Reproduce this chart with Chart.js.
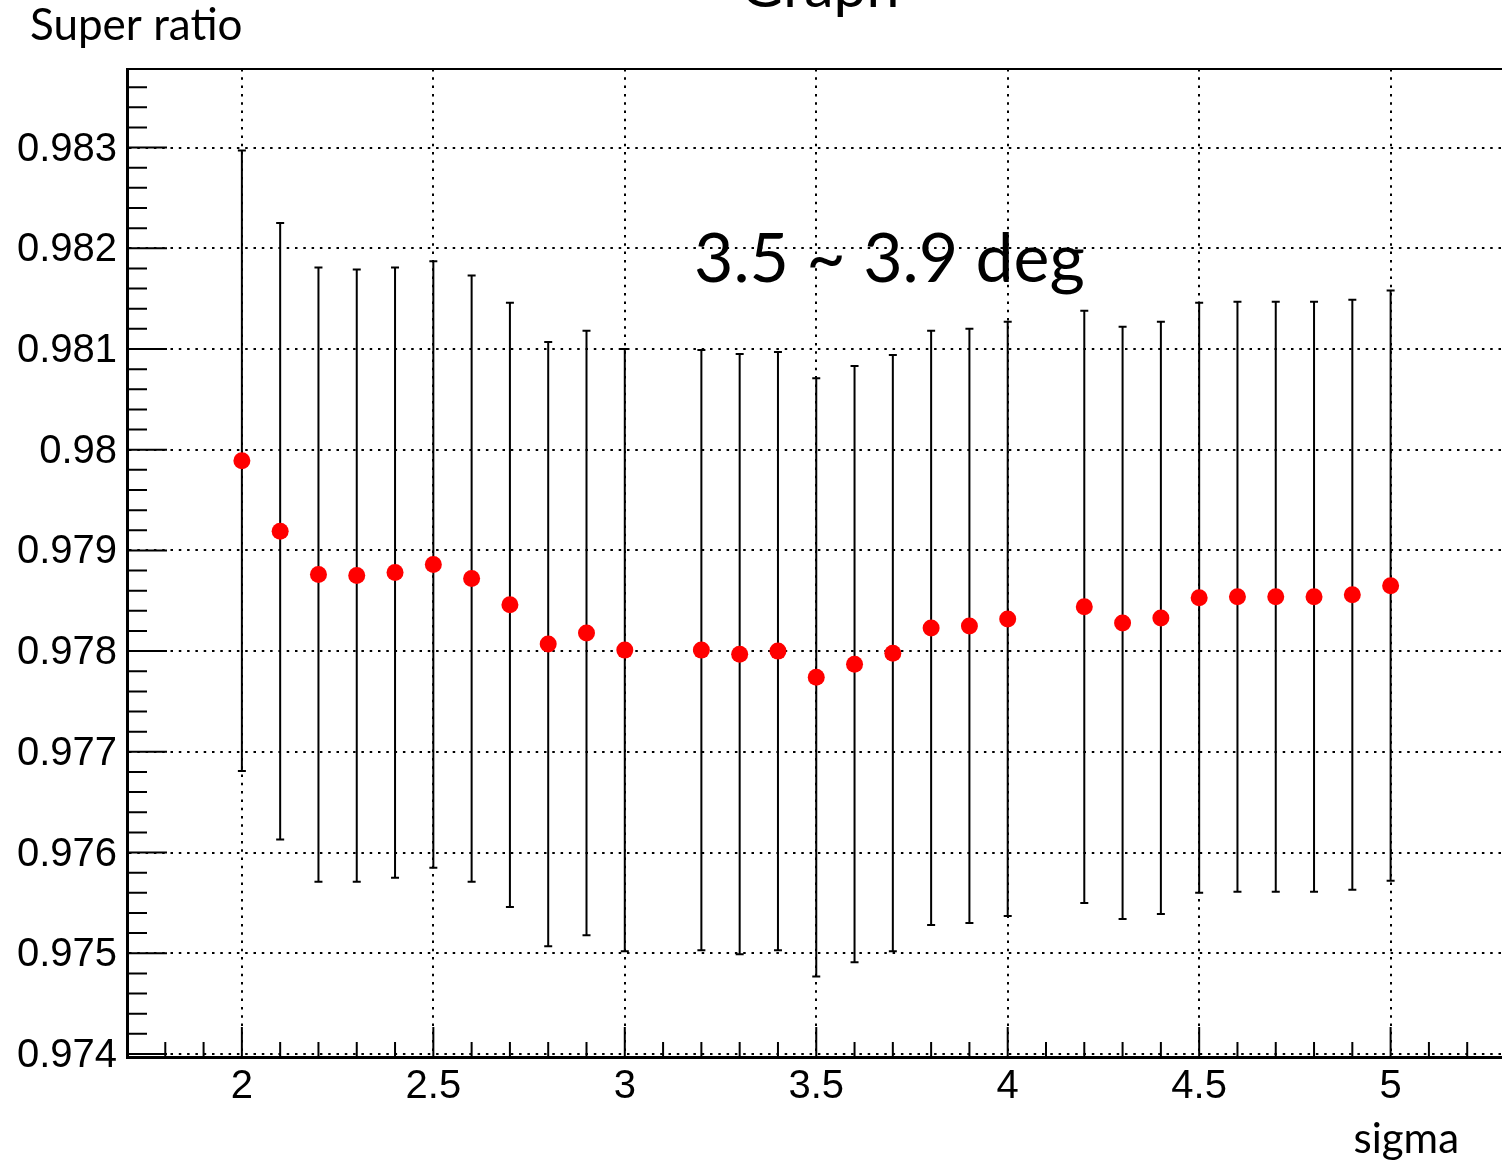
<!DOCTYPE html>
<html>
<head>
<meta charset="utf-8">
<title>Super ratio vs sigma</title>
<script src="https://cdn.jsdelivr.net/npm/chart.js@4/dist/chart.umd.min.js"></script>
<style>
  html, body { margin: 0; padding: 0; background: #fff; overflow: hidden; }
  #wrap { width: 1514px; height: 1171px; }
</style>
</head>
<body>
<div id="wrap"><canvas id="c" width="1514" height="1171"></canvas></div>
<script>
// sigma cut values (3.1 and 4.1 are absent)
const sigma = [2.0, 2.1, 2.2, 2.3, 2.4, 2.5, 2.6, 2.7, 2.8, 2.9, 3.0,
               3.2, 3.3, 3.4, 3.5, 3.6, 3.7, 3.8, 3.9, 4.0,
               4.2, 4.3, 4.4, 4.5, 4.6, 4.7, 4.8, 4.9, 5.0];
// super ratio at each sigma
const ratio = [0.97989, 0.97919, 0.97876, 0.97875, 0.97878, 0.97886, 0.97872, 0.97846, 0.97807, 0.97818, 0.97801,
               0.97801, 0.97797, 0.97800, 0.97774, 0.97787, 0.97798, 0.97823, 0.97825, 0.97832,
               0.97844, 0.97828, 0.97833, 0.97853, 0.97854, 0.97854, 0.97854, 0.97856, 0.97865];
// symmetric uncertainty on the ratio
const ratioErr = [0.00308, 0.00306, 0.00305, 0.00304, 0.00303, 0.00301, 0.00301, 0.00300, 0.00300, 0.00300, 0.00299,
                  0.00298, 0.00298, 0.00297, 0.00297, 0.00296, 0.00296, 0.00295, 0.00295, 0.00295,
                  0.00294, 0.00294, 0.00294, 0.00293, 0.00293, 0.00293, 0.00293, 0.00293, 0.00293];

// axis ranges and labelled ticks
const xRange = [1.7, 5.3];
const yRange = [0.97397, 0.98378];
const xTicks = [2, 2.5, 3, 3.5, 4, 4.5, 5];
const yTicks = [0.974, 0.975, 0.976, 0.977, 0.978, 0.979, 0.980, 0.981, 0.982, 0.983];
const xMinorStep = 0.1;
const yMinorStep = 0.0002;

const titleText = 'Graph';
const xTitle = 'sigma';
const yTitle = 'Super ratio';
const noteText = '3.5 ~ 3.9 deg';

const points = sigma.map((x, i) => ({ x: x, y: ratio[i] }));

const DOT = [2.5, 5.8];

// ROOT-style decorations: error bars, inner ticks, frame and text
const rootStyle = {
  id: 'rootStyle',
  beforeDraw(chart) {
    // the annotation sits underneath the grid
    const { ctx } = chart;
    ctx.save();
    ctx.fillStyle = '#000';
    ctx.textBaseline = 'alphabetic';
    ctx.font = '68px Lato';
    ctx.textAlign = 'left';
    ctx.fillText(noteText, 694, 282);
    ctx.restore();
  },
  beforeDatasetsDraw(chart) {
    const { ctx, scales: { x, y } } = chart;
    ctx.save();
    ctx.strokeStyle = '#000';
    ctx.lineWidth = 2;
    sigma.forEach((sx, i) => {
      const px = x.getPixelForValue(sx);
      const top = y.getPixelForValue(ratio[i] + ratioErr[i]);
      const bot = y.getPixelForValue(ratio[i] - ratioErr[i]);
      ctx.beginPath();
      ctx.moveTo(px, top); ctx.lineTo(px, bot);
      ctx.moveTo(px - 4, top); ctx.lineTo(px + 4, top);
      ctx.moveTo(px - 4, bot); ctx.lineTo(px + 4, bot);
      ctx.stroke();
    });
    ctx.restore();
  },
  afterDraw(chart) {
    const { ctx, chartArea: a, scales: { x, y } } = chart;
    ctx.save();
    ctx.strokeStyle = '#000';
    // frame top edge
    ctx.lineWidth = 2;
    ctx.beginPath();
    ctx.moveTo(a.left, a.top); ctx.lineTo(a.right + 10, a.top);
    ctx.stroke();
    // y ticks pointing into the frame
    ctx.lineWidth = 2;
    ctx.beginPath();
    const yn = Math.round((yRange[1] - yTicks[0]) / yMinorStep);
    for (let k = -1; k <= yn; k++) {
      const v = yTicks[0] + k * yMinorStep;
      if (v < yRange[0] || v > yRange[1]) continue;
      const py = y.getPixelForValue(v);
      const major = yTicks.some(t => Math.abs(t - v) < 1e-7);
      ctx.moveTo(a.left, py); ctx.lineTo(a.left + (major ? 40 : 20), py);
    }
    ctx.stroke();
    // x ticks pointing into the frame
    ctx.beginPath();
    const xn = Math.round((xRange[1] - xRange[0]) / xMinorStep);
    for (let k = 1; k < xn; k++) {
      const v = xRange[0] + k * xMinorStep;
      const px = x.getPixelForValue(v);
      const major = xTicks.some(t => Math.abs(t - v) < 1e-7);
      ctx.moveTo(px, a.bottom); ctx.lineTo(px, a.bottom - (major ? 30 : 15));
    }
    ctx.stroke();
    // title and axis titles
    ctx.fillStyle = '#000';
    ctx.textBaseline = 'alphabetic';
    ctx.font = '59px Lato';
    ctx.textAlign = 'center';
    ctx.fillText(titleText, 820, 7);
    ctx.font = '44px Lato';
    ctx.textAlign = 'left';
    ctx.fillText(yTitle, 30, 40);
    ctx.font = '42px Lato';
    ctx.textAlign = 'right';
    ctx.fillText(xTitle, 1459, 1153);
    ctx.restore();
  }
};

new Chart(document.getElementById('c'), {
  type: 'scatter',
  data: {
    datasets: [{
      data: points,
      backgroundColor: '#ff0000',
      borderWidth: 0,
      pointRadius: 8.5,
      pointHoverRadius: 8.5
    }]
  },
  options: {
    responsive: false,
    animation: false,
    events: [],
    layout: { padding: { top: 69, right: 1, left: 0, bottom: 0 } },
    plugins: { legend: { display: false }, tooltip: { enabled: false }, title: { display: false } },
    scales: {
      x: {
        type: 'linear',
        min: xRange[0], max: xRange[1],
        afterBuildTicks: s => { s.ticks = xTicks.map(v => ({ value: v })); },
        afterFit: s => { s.height = 114; },
        grid: { color: '#000', lineWidth: 2, drawTicks: false },
        border: { display: true, color: '#000', width: 3, dash: DOT },
        ticks: {
          color: '#000', padding: 6, maxRotation: 0, autoSkip: false,
          font: { family: 'Liberation Sans', size: 40 },
          callback: v => String(v)
        }
      },
      y: {
        type: 'linear',
        min: yRange[0], max: yRange[1],
        afterBuildTicks: s => { s.ticks = yTicks.map(v => ({ value: v })); },
        afterFit: s => { s.width = 127; },
        grid: { color: '#000', lineWidth: 2, drawTicks: false },
        border: { display: true, color: '#000', width: 3, dash: DOT },
        ticks: {
          color: '#000', padding: 10, autoSkip: false, labelOffset: 2,
          font: { family: 'Liberation Sans', size: 40 },
          callback: v => String(parseFloat(v.toFixed(3)))
        }
      }
    }
  },
  plugins: [rootStyle]
});
</script>
</body>
</html>
